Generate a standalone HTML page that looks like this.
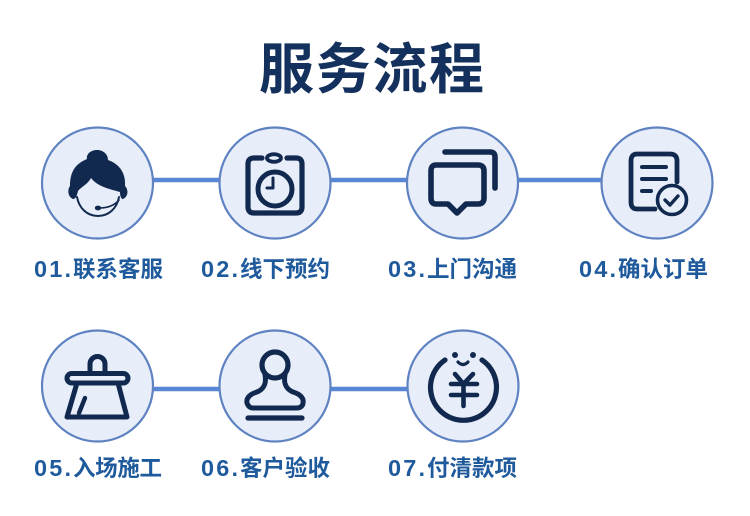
<!DOCTYPE html>
<html><head><meta charset="utf-8"><style>
html,body{margin:0;padding:0;background:#fff;width:750px;height:516px;overflow:hidden}
svg{display:block;filter:blur(.35px)}
text{font-family:"Liberation Sans","Noto Sans CJK SC",sans-serif;font-weight:700}
.d{font-size:23.500px;fill:#1f5a9c}
.l{font-size:22.500px;fill:#1f5a9c;font-family:"Noto Sans CJK SC",sans-serif}
.i{fill:none;stroke:#12294f;stroke-linecap:round;stroke-linejoin:round}
.c{fill:#e8eef9;stroke:#5f82c2;stroke-width:2.200}
</style></head><body>
<svg width="750" height="516" viewBox="0 0 750 516" xmlns="http://www.w3.org/2000/svg">
<rect width="750" height="516" fill="#fff"/>
<text x="259" y="88.500" font-size="55" textLength="225" lengthAdjust="spacing" fill="#14305c" style="font-family:'Noto Sans CJK SC',sans-serif">服务流程</text>

<g stroke="#5a86d6" stroke-width="4.500">
<line x1="150" y1="180" x2="222" y2="180"/>
<line x1="328" y1="180" x2="410" y2="180"/>
<line x1="516" y1="180" x2="604" y2="180"/>
<line x1="150" y1="389" x2="222" y2="389"/>
<line x1="328" y1="389" x2="410" y2="389"/>
</g>
<circle class="c" cx="97.500" cy="183" r="55.500"/>
<circle class="c" cx="275" cy="183" r="55.500"/>
<circle class="c" cx="462.500" cy="183" r="55.500"/>
<circle class="c" cx="657" cy="183" r="55.500"/>
<circle class="c" cx="97.500" cy="386" r="55.500"/>
<circle class="c" cx="275" cy="386" r="55.500"/>
<circle class="c" cx="463" cy="386" r="55.500"/>

<!-- 1 headset agent -->
<path fill="#12294f" d="M73 199C68 197 67 190 70 186C70 172 75 164 87 159C86 154 91 150 97 150C103 150 108 154 108 160C120 164 126 174 125 186C129 190 128 197 123 199C121 199 120 196 120 192C110 189 98 187 91 178C88 184 81 187 78 191C77 195 76 199 73 199Z"/>
<path class="i" stroke-width="2" d="M77 197C79 208 87 216 98 216C109 216 117 208 119 197"/>
<path class="i" stroke-width="1.600" d="M100 208C108 208 115 205 119 200"/>
<ellipse cx="98" cy="208" rx="3.200" ry="2.400" fill="#12294f"/>

<!-- 2 clock -->
<path class="i" stroke-width="5.200" d="M262 158H254Q248 158 248 164V207Q248 213 254 213H296Q302 213 302 207V164Q302 158 296 158H287"/>
<ellipse class="i" stroke-width="3.800" cx="274" cy="158" rx="7" ry="3.800"/>
<circle class="i" stroke-width="5" cx="275" cy="189" r="17"/>
<path class="i" stroke-width="3" d="M273 178V188H267"/>

<!-- 3 chat -->
<path class="i" stroke-width="5.600" d="M436 165H478Q484 165 484 171V198Q484 204 478 204H466L457 213L448 204H436Q431 204 431 198V171Q431 165 436 165Z"/>
<path class="i" stroke-width="5.600" d="M445 152H490Q495 152 495 157V188"/>

<!-- 4 doc -->
<path class="i" stroke-width="4.800" d="M677 182V161Q677 154 670 154H637Q631 154 631 161V202Q631 209 637 209H655"/>
<path class="i" stroke-width="4" d="M642 167H666M642 179H666M642 191H651"/>
<circle class="i" stroke-width="3.600" cx="672" cy="200" r="14.500"/>
<path class="i" stroke-width="3.400" d="M665 200L670 205L678 196"/>

<!-- 5 broom -->
<path class="i" stroke-width="5" d="M90 373V364A7.500 7.500 0 0 1 105 364V373"/>
<rect class="i" stroke-width="5" x="67" y="373.500" width="61" height="9.500" rx="4.700"/>
<path class="i" stroke-width="5" d="M77 383L67 417H127L118 383"/>
<path class="i" stroke-width="4.400" d="M85 398L79 413"/>

<!-- 6 stamp -->
<circle class="i" stroke-width="5.200" cx="275" cy="365" r="13"/>
<path class="i" stroke-width="5" d="M265 375C267 385 262 390 257 392C250 394 246 398 247 403C248 406 250 408 253 408H297C300 408 303 406 303 403C304 398 300 394 293 392C288 390 283 385 285 375"/>
<path class="i" stroke-width="5.200" d="M248 418H302"/>

<!-- 7 yen -->
<path class="i" stroke-width="5.200" d="M445 360A33 33 0 1 0 482 360"/>
<circle cx="455" cy="355" r="3" fill="#12294f"/>
<circle cx="473" cy="355" r="3" fill="#12294f"/>
<path class="i" stroke-width="3.200" d="M458 362Q463 367 468 362"/>
<path class="i" stroke-width="4.600" d="M455 374L463.500 384L473 374M451 384H477M451 395H477M463.500 384V406"/>

<text class="d" x="34" y="277" textLength="37" lengthAdjust="spacing">01.</text><text class="l" x="73" y="277" textLength="90" lengthAdjust="spacing">联系客服</text>
<text class="d" x="201" y="277" textLength="37" lengthAdjust="spacing">02.</text><text class="l" x="240" y="277" textLength="90" lengthAdjust="spacing">线下预约</text>
<text class="d" x="388" y="277" textLength="37" lengthAdjust="spacing">03.</text><text class="l" x="427" y="277" textLength="90" lengthAdjust="spacing">上门沟通</text>
<text class="d" x="579" y="277" textLength="37" lengthAdjust="spacing">04.</text><text class="l" x="618" y="277" textLength="90" lengthAdjust="spacing">确认订单</text>
<text class="d" x="34" y="476" textLength="37" lengthAdjust="spacing">05.</text><text class="l" x="73" y="476" textLength="89" lengthAdjust="spacing">入场施工</text>
<text class="d" x="201" y="476" textLength="37" lengthAdjust="spacing">06.</text><text class="l" x="240" y="476" textLength="90" lengthAdjust="spacing">客户验收</text>
<text class="d" x="388" y="476" textLength="37" lengthAdjust="spacing">07.</text><text class="l" x="427" y="476" textLength="90" lengthAdjust="spacing">付清款项</text>
</svg>
</body></html>
